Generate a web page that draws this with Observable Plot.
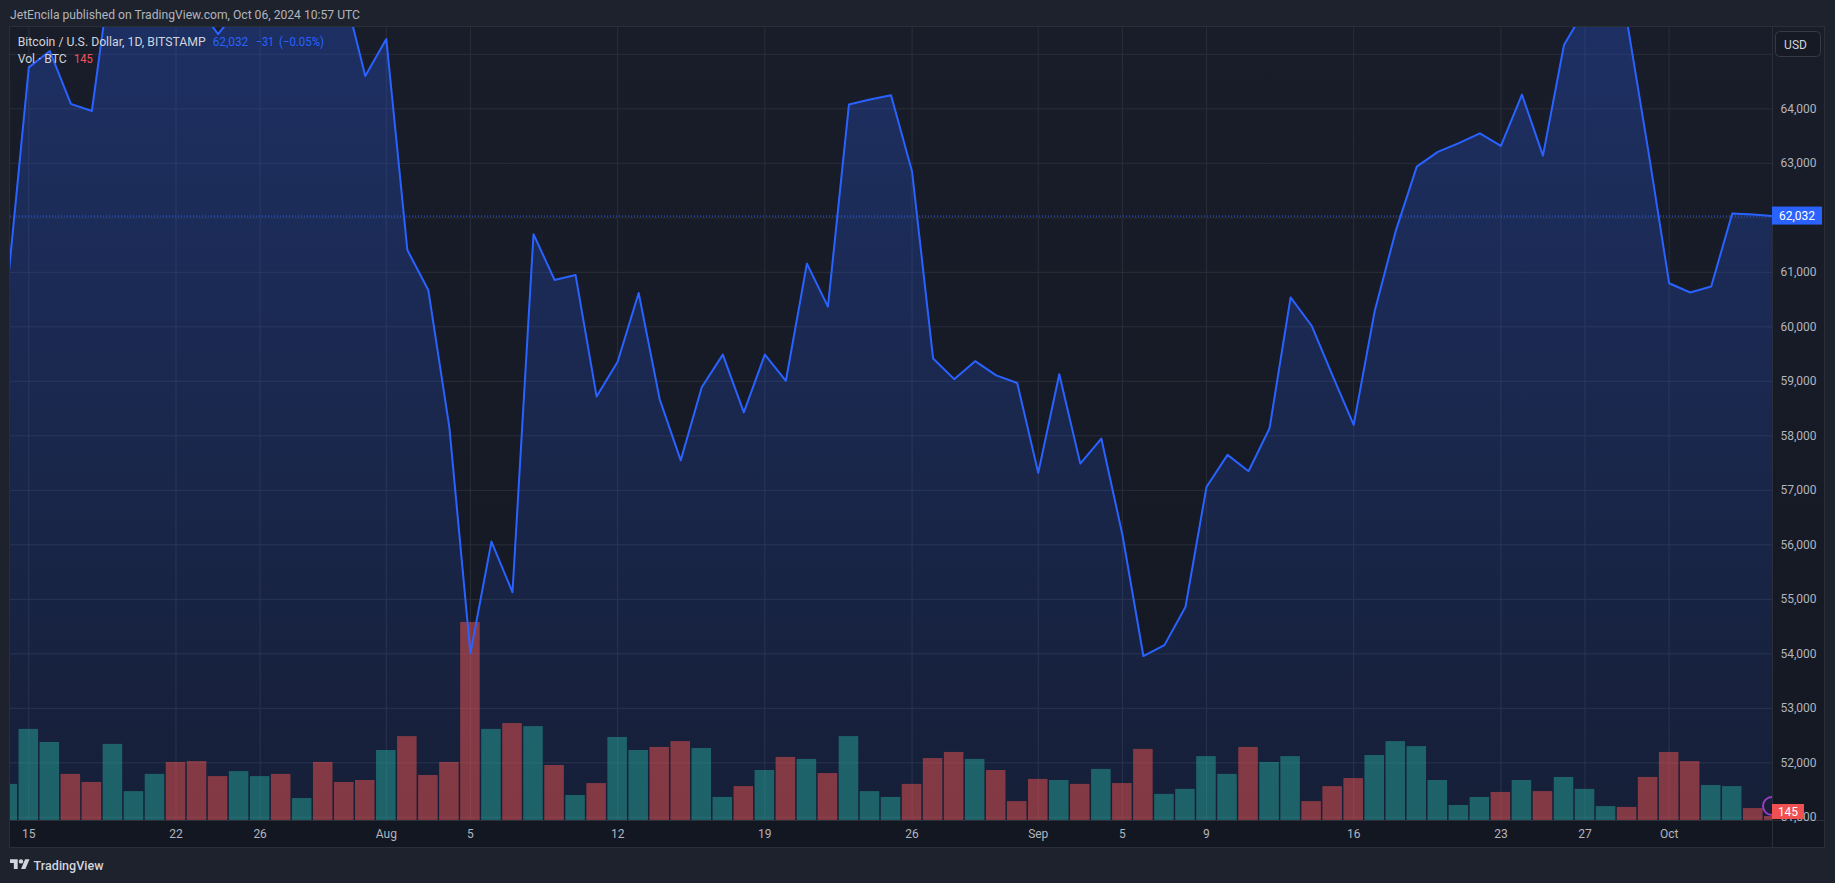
<!DOCTYPE html>
<html><head><meta charset="utf-8">
<script src="https://cdn.jsdelivr.net/npm/d3@7"></script>
<script src="https://cdn.jsdelivr.net/npm/@observablehq/plot@0.6"></script>
<style>
html,body{margin:0;padding:0;background:#1e222d;overflow:hidden;}
#root{position:relative;width:1835px;height:883px;background:#1e222d;font-family:Roboto,"Liberation Sans",sans-serif;}
#root svg{position:absolute;left:0;top:0;}
.bg{position:absolute;box-sizing:border-box;}
</style></head><body><div id="root">
<div class="bg" style="left:9px;top:26px;width:1816px;height:822px;border:1px solid #2a2e39;background:linear-gradient(#191d29,#141823);"></div>
<div class="bg" style="left:10px;top:820px;width:1814px;height:27px;border-top:1px solid #2a2e39;background:#131722;"></div>
<div class="bg" style="left:1772px;top:27px;width:1px;height:820px;background:#2a2e39;"></div>
</div>
<script>
// ---------- data ----------
const firstDay = "2024-07-14";
const lastDay = "2024-10-06";
// daily close, USD (Jul 14 .. Oct 6)
const closes = [
  60790, 64760, 65060, 64090, 63960, 66800, 67150, 68170, 67580, 65900, 65370, 65850, 67900, 67850, 68250, 66800, 66150, 64600,
  65280, 61410, 60670, 58150, 54010, 56060, 55130, 61700, 60860, 60950, 58720, 59360, 60620, 58670, 57550, 58890, 59490, 58430,
  59490, 59010, 61160, 60370, 64080, 64170, 64250, 62850, 59420, 59040, 59370, 59110, 58970,
  57320, 59130, 57490, 57950, 56190, 53960, 54160, 54860, 57060, 57650, 57350, 58140, 60540, 60020, 59100, 58200, 60290, 61760,
  62940, 63210, 63370, 63550, 63320, 64260, 63140, 65170, 65830, 65850, 65600, 63250,
  60800, 60630, 60740, 62080, 62063, 62032
];
// daily volume, BTC
const volumes = [
  1300, 3280, 2810, 1660, 1370, 2740, 1040, 1660, 2090, 2120, 1580, 1760, 1580, 1660, 790, 2090, 1370, 1440,
  2520, 3020, 1620, 2090, 7130, 3280, 3490, 3380, 1980, 900, 1330, 2990, 2520, 2630, 2840, 2590, 830, 1220,
  1800, 2270, 2200, 1690, 3020, 1040, 830, 1300, 2230, 2450, 2200, 1800, 680,
  1480, 1440, 1300, 1840, 1330, 2560, 940, 1120, 2300, 1660, 2630, 2090, 2300, 680, 1220, 1510, 2340, 2840,
  2660, 1440, 540, 830, 1010, 1440, 1040, 1550, 1120, 500, 470, 1550,
  2450, 2120, 1260, 1220, 430, 145
];
// 1 = up day (green volume), 0 = down day (red volume)
const volumeUp = [
  1,1,1,0,0,1,1,1,0,0,0,1,1,0,1,0,0,0,
  1,0,0,0,0,1,0,1,0,1,0,1,1,0,0,1,1,0,
  1,0,1,0,1,1,1,0,0,0,1,0,0,
  0,1,0,1,0,0,1,1,1,1,0,1,1,0,0,0,1,1,
  1,1,1,1,0,1,0,1,1,1,0,0,
  0,0,1,1,0,0
];
const priceTicks = [51000,52000,53000,54000,55000,56000,57000,58000,59000,60000,61000,62000,63000,64000];
const gridPrices = [51000,52000,53000,54000,55000,56000,57000,58000,59000,60000,61000,62000,63000,64000,65000];
const timeTickDates = ["2024-07-15","2024-07-22","2024-07-26","2024-08-01","2024-08-05","2024-08-12","2024-08-19","2024-08-26","2024-09-01","2024-09-05","2024-09-09","2024-09-16","2024-09-23","2024-09-27","2024-10-01"];
const timeTickLabels = ["15","22","26","Aug","5","12","19","26","Sep","5","9","16","23","27","Oct"];
const headerText = "JetEncila published on TradingView.com, Oct 06, 2024 10:57 UTC";
const symbolText = "Bitcoin / U.S. Dollar, 1D, BITSTAMP";
const volText = "Vol · BTC";
const currency = "USD";

// ---------- layout ----------
const W = 1835, H = 883, mL = 10, mR = 63, mT = 27, mB = 63;
const xDomain = [new Date(Date.UTC(2024,6,14,3,7)), new Date(Date.UTC(2024,9,5,21,57))];
const priceDomain = [50942, 65492];
const volDomain = [0, 28548];

const dates = d3.utcDay.range(new Date(firstDay), d3.utcDay.offset(new Date(lastDay), 1));
const data = dates.map((d, i) => ({date: d, close: closes[i], volume: volumes[i], up: volumeUp[i]}));
const tickDates = timeTickDates.map(s => new Date(s));
const labelByTime = new Map(tickDates.map((d, i) => [+d, timeTickLabels[i]]));
const root = document.getElementById("root");
const baseStyle = {background: "transparent", color: "#b2b5be", fontFamily: "Roboto, sans-serif", fontSize: "12px", overflow: "visible"};
const frame = {width: W, height: H, marginLeft: mL, marginRight: mR, marginTop: mT, marginBottom: mB};

// layer 1: grid, area, axes
const pricePlot = Plot.plot({
  ...frame, style: baseStyle,
  x: {type: "utc", domain: xDomain},
  y: {domain: priceDomain},
  marks: [
    Plot.ruleY(gridPrices, {stroke: "#2a2e39", strokeWidth: 1}),
    Plot.ruleX(tickDates, {stroke: "#2a2e39", strokeWidth: 1}),
    Plot.areaY(data, {x: "date", y: "close", fill: "url(#areaGrad)", clip: true}),
    Plot.ruleY([closes[closes.length - 1]], {stroke: "#2962ff", strokeWidth: 1, strokeDasharray: "1 2"}),
    Plot.axisY({anchor: "right", ticks: priceTicks, tickFormat: d3.format(","), tickSize: 0, tickPadding: 8, label: null}),
    Plot.axisX({ticks: tickDates, tickFormat: d => labelByTime.get(+d), tickSize: 0, tickPadding: 9, label: null})
  ]
});
const defs = d3.select(pricePlot).insert("defs", ":first-child");
const grad = defs.append("linearGradient").attr("id", "areaGrad").attr("gradientUnits", "userSpaceOnUse")
  .attr("x1", 0).attr("x2", 0).attr("y1", mT).attr("y2", H - mB);
grad.append("stop").attr("offset", 0).attr("stop-color", "#2962ff").attr("stop-opacity", 0.27);
grad.append("stop").attr("offset", 1).attr("stop-color", "#2962ff").attr("stop-opacity", 0.09);
root.appendChild(pricePlot);

// layer 2: volume
const volPlot = Plot.plot({
  ...frame, style: baseStyle,
  x: {type: "utc", domain: xDomain, axis: null},
  y: {domain: volDomain, axis: null},
  color: {type: "identity"},
  marks: [
    Plot.rect(data, {
      x1: d => d3.utcHour.offset(d.date, -12), x2: d => d3.utcHour.offset(d.date, 12),
      y1: 0, y2: "volume", insetLeft: 0.75, insetRight: 0.75,
      fill: d => d.up ? "#26a69a" : "#ef5350", fillOpacity: 0.5, clip: true
    })
  ]
});
root.appendChild(volPlot);

// layer 3: price line
const linePlot = Plot.plot({
  ...frame, style: baseStyle,
  x: {type: "utc", domain: xDomain, axis: null},
  y: {domain: priceDomain, axis: null},
  marks: [
    Plot.lineY(data, {x: "date", y: "close", stroke: "#2962ff", strokeWidth: 2, clip: true})
  ]
});
root.appendChild(linePlot);

// layer 4: annotations
const ys = pricePlot.scale("y");
const yv = volPlot.scale("y");
const last = closes[closes.length - 1], prev = closes[closes.length - 2];
const chg = last - prev;
const minus = s => s.replace(/-/g, "\u2212");
const ov = d3.select(root).append("svg").attr("width", W).attr("height", H)
  .style("font-family", "Roboto, sans-serif");

function txt(x, y, s, size, fill, len, anchor) {
  const t = ov.append("text").attr("x", x).attr("y", y).attr("font-size", size).attr("fill", fill).text(s);
  if (len) t.attr("textLength", len).attr("lengthAdjust", "spacingAndGlyphs");
  if (anchor) t.attr("text-anchor", anchor);
  return t;
}
// header
txt(10, 19, headerText, 12.5, "#b2b5be", 350);
// legend
txt(17.7, 46, symbolText, 12, "#d1d4dc", 188);
txt(212.7, 46, d3.format(",")(last), 12, "#2962ff", 35.6);
txt(256, 46, minus(String(chg)), 12, "#2962ff", 18);
txt(279, 46, minus("(" + d3.format(".2f")(chg / prev * 100) + "%)"), 12, "#2962ff", 45);
txt(17.7, 63, volText, 12, "#d1d4dc", 49);
txt(74, 63, String(volumes[volumes.length - 1]), 12, "#f7525f", 18.7);

// USD box
ov.append("rect").attr("x", 1775.5).attr("y", 31.5).attr("width", 45).attr("height", 25).attr("rx", 4)
  .attr("fill", "#161a25").attr("stroke", "#363a45");
txt(1795.5, 48.5, currency, 12, "#d1d4dc", null, "middle");

// last price tag
const yp = ys.apply(last);
ov.append("rect").attr("x", 1772).attr("y", yp - 9).attr("width", 50).attr("height", 18).attr("fill", "#2962ff");
txt(1797, yp + 4.3, d3.format(",")(last), 12, "#ffffff", null, "middle");

// volume tag + purple marker
const vTop = Math.min(yv.apply(volumes[volumes.length - 1]) + 8, H - mB - 1);
ov.append("path").attr("d", `M1772,${vTop - 22} A9,9 0 0,0 1772,${vTop - 4}`).attr("fill", "none")
  .attr("stroke", "#9c3bc4").attr("stroke-width", 2);
ov.append("rect").attr("x", 1772).attr("y", vTop - 15).attr("width", 32).attr("height", 15).attr("fill", "#f0504f");
txt(1788, vTop - 3.5, String(volumes[volumes.length - 1]), 12, "#ffffff", null, "middle");

// TradingView logo
const logo = ov.append("g").attr("transform", "translate(10,857) scale(0.55)").attr("fill", "#d1d4dc");
logo.append("path").attr("d", "M14 22H7V11H0V4h14v18ZM28 22h-8l7.5-18h8L28 22Z");
logo.append("circle").attr("cx", 20).attr("cy", 8).attr("r", 4);
txt(33.6, 870, "TradingView", 13, "#d1d4dc", 70).attr("font-weight", 500);
</script></body></html>
